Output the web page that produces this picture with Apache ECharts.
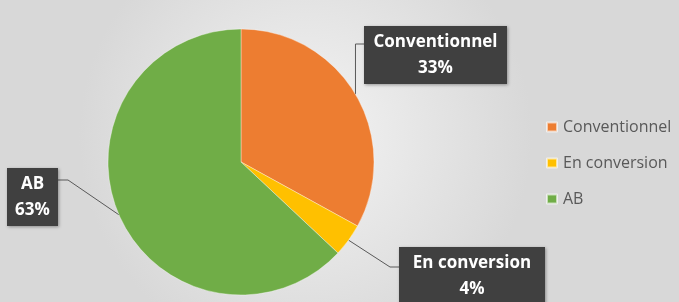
<!DOCTYPE html>
<html>
<head>
<meta charset="utf-8">
<script src="https://cdn.jsdelivr.net/npm/echarts@6/dist/echarts.min.js"></script>
<style>
  html, body { margin: 0; padding: 0; }
  #main { width: 679px; height: 302px; }
</style>
</head>
<body>
<div id="main"></div>
<script>
var categories = ['Conventionnel', 'En conversion', 'AB'];
var shares = [33, 4, 63];
var colors = ['#ED7D31', '#FFC000', '#70AD47'];

// callout boxes: top-left corner, width, and where the leader joins the box
var callouts = [
  { x: 364, y: 26, w: 143, side: 'left', joinY: 18, bend: 'vertical' },
  { x: 399, y: 247, w: 146, side: 'left', joinY: 20, bend: 9 },
  { x: 7, y: 168, w: 51, side: 'right', joinY: 12, bend: 10 }
];

var myChart = echarts.init(document.getElementById('main'));

var data = categories.map(function (name, i) {
  return {
    name: name,
    value: shares[i],
    itemStyle: { color: colors[i] },
    label: { width: callouts[i].w }
  };
});

var option = {
  backgroundColor: {
    type: 'radial', x: 0.45, y: 0.45, r: 0.75,
    colorStops: [{ offset: 0, color: '#f4f4f4' }, { offset: 1, color: '#d8d8d8' }]
  },
  animation: false,
  legend: {
    orient: 'vertical',
    left: 546,
    top: 119,
    padding: 0,
    itemWidth: 10,
    itemHeight: 9,
    itemGap: 20,
    icon: 'rect',
    data: categories,
    textStyle: { color: '#595959', fontSize: 16, fontFamily: 'Open Sans', padding: [0, 0, 0, 1] }
  },
  series: [{
    type: 'pie',
    center: [241, 162],
    radius: 133,
    startAngle: 90,
    data: data,
    itemStyle: { borderColor: 'rgba(255,255,255,0.6)', borderWidth: 0.6 },
    label: {
      show: true,
      formatter: '{b}\n{d}%',
      color: '#ffffff',
      fontFamily: 'Open Sans',
      fontWeight: 'bold',
      fontSize: 17,
      lineHeight: 26,
      align: 'center',
      backgroundColor: '#404040',
      padding: [3, 0],
      shadowColor: 'rgba(0,0,0,0.35)',
      shadowBlur: 3,
      shadowOffsetX: 1,
      shadowOffsetY: 1
    },
    labelLine: {
      show: true,
      lineStyle: { color: '#595959', width: 1 }
    },
    labelLayout: function (params) {
      var c = callouts[params.dataIndex];
      var r = params.labelRect;
      var start = params.labelLinePoints[0];
      var jy = c.y + c.joinY;
      var pts;
      if (c.bend === 'vertical') {
        pts = [start, [start[0], jy], [c.x, jy]];
      } else if (c.side === 'left') {
        pts = [start, [c.x - c.bend, jy], [c.x, jy]];
      } else {
        pts = [start, [c.x + r.width + c.bend, jy], [c.x + r.width, jy]];
      }
      return {
        x: c.x + r.width / 2,
        y: c.y,
        align: 'center',
        verticalAlign: 'top',
        labelLinePoints: pts
      };
    }
  }]
};

myChart.setOption(option);
</script>
</body>
</html>
